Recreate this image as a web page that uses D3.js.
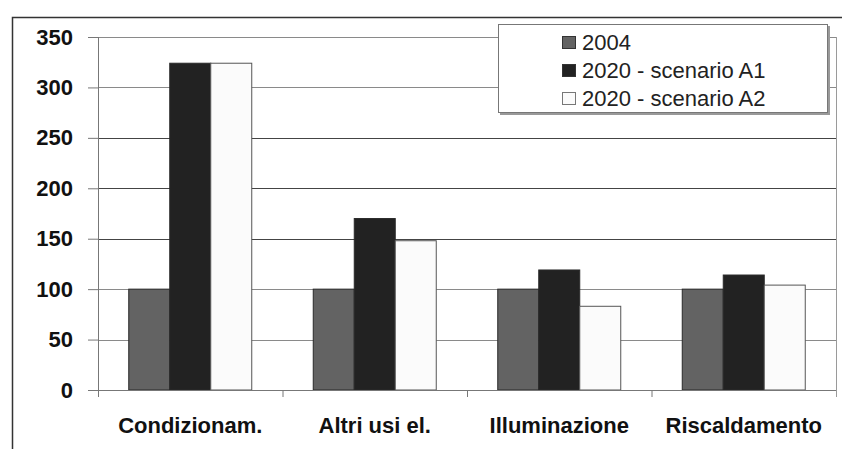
<!DOCTYPE html>
<html>
<head>
<meta charset="utf-8">
<script src="https://cdn.jsdelivr.net/npm/d3@7"></script>
<style>
  body { margin: 0; background: #fff; }
  text { font-family: "Liberation Sans", Arial, sans-serif; }
</style>
</head>
<body>
<div id="chart"></div>
<script>
// Categories and series
var categories = ["Condizionam.", "Altri usi el.", "Illuminazione", "Riscaldamento"];
var seriesNames = ["2004", "2020 - scenario A1", "2020 - scenario A2"];
var values2004 = [100, 100, 100, 100];
var valuesA1 = [324, 170, 119, 114];
var valuesA2 = [324, 148, 83, 104];
var yTicks = [0, 50, 100, 150, 200, 250, 300, 350];

var fills = ["#636363", "#222222", "#fbfbfb"];

var width = 842, height = 449;
var margin = { left: 98, right: 6, top: 37, bottom: 59 };

var svg = d3.select("#chart").append("svg")
  .attr("width", width)
  .attr("height", height);

// outer frame (top and left edges visible)
svg.append("path")
  .attr("d", "M12.5," + height + "V17.5H" + width)
  .attr("fill", "none")
  .attr("stroke", "#333")
  .attr("stroke-width", 1.5);

var x0 = d3.scaleBand()
  .domain(categories)
  .range([margin.left, width - margin.right])
  .paddingInner(0)
  .paddingOuter(0);

var x1 = d3.scaleBand()
  .domain(seriesNames)
  .range([0, x0.bandwidth()])
  .paddingOuter(0.75)
  .paddingInner(0);

var y = d3.scaleLinear()
  .domain([0, 350])
  .range([height - margin.bottom, margin.top]);

// gridlines
svg.append("g")
  .selectAll("line")
  .data(yTicks.filter(d => d > 0))
  .enter().append("line")
  .attr("x1", margin.left)
  .attr("x2", width - margin.right)
  .attr("y1", d => Math.round(y(d)) + 0.5)
  .attr("y2", d => Math.round(y(d)) + 0.5)
  .attr("stroke", d => (d >= 150 && d <= 250) ? "#444" : "#8a8a8a")
  .attr("stroke-width", 1.2);

// right edge of plot area
svg.append("line")
  .attr("x1", width - margin.right + 0.5)
  .attr("x2", width - margin.right + 0.5)
  .attr("y1", margin.top)
  .attr("y2", y(0) + 7)
  .attr("stroke", "#9a9a9a");

// bars
var table = categories.map((c, i) => ({
  cat: c,
  vals: [values2004[i], valuesA1[i], valuesA2[i]]
}));

var groups = svg.append("g")
  .selectAll("g")
  .data(table)
  .enter().append("g")
  .attr("transform", d => "translate(" + x0(d.cat) + ",0)");

groups.selectAll("rect")
  .data(d => d.vals.map((v, k) => ({ name: seriesNames[k], v: v, k: k })))
  .enter().append("rect")
  .attr("x", d => x1(d.name))
  .attr("width", x1.bandwidth())
  .attr("y", d => y(d.v))
  .attr("height", d => y(0) - y(d.v))
  .attr("fill", d => fills[d.k])
  .attr("stroke", d => d.k == 2 ? "#555" : "#2a2a2a")
  .attr("stroke-width", 1);

// y axis
var yAxis = svg.append("g")
  .attr("transform", "translate(" + margin.left + ",0)")
  .call(d3.axisLeft(y).tickValues(yTicks).tickSize(10).tickPadding(15));
yAxis.select(".domain").remove();
yAxis.selectAll(".tick line").attr("stroke", "#777");
yAxis.selectAll("text")
  .attr("font-size", 22)
  .attr("font-weight", "bold")
  .attr("fill", "#111");
yAxis.append("line")
  .attr("x1", 0.5).attr("x2", 0.5)
  .attr("y1", margin.top).attr("y2", y(0) + 7)
  .attr("stroke", "#777");

// x axis line and separators
var xAxis = svg.append("g");
xAxis.append("line")
  .attr("x1", margin.left)
  .attr("x2", width - margin.right)
  .attr("y1", Math.round(y(0)) + 0.5)
  .attr("y2", Math.round(y(0)) + 0.5)
  .attr("stroke", "#777")
  .attr("stroke-width", 1.2);
xAxis.selectAll(".sep")
  .data(categories.slice(1))
  .enter().append("line")
  .attr("x1", d => x0(d) + 0.5)
  .attr("x2", d => x0(d) + 0.5)
  .attr("y1", y(0))
  .attr("y2", y(0) + 7)
  .attr("stroke", "#777");
xAxis.selectAll("text")
  .data(categories)
  .enter().append("text")
  .attr("x", d => x0(d) + x0.bandwidth() / 2)
  .attr("y", 433)
  .attr("text-anchor", "middle")
  .attr("font-size", 22)
  .attr("font-weight", "bold")
  .attr("fill", "#111")
  .text(d => d);

// legend
var legend = svg.append("g").attr("transform", "translate(498,24)");
legend.append("rect")
  .attr("x", 2).attr("y", 2)
  .attr("width", 330).attr("height", 89)
  .attr("fill", "#999");
legend.append("rect")
  .attr("x", 0.5).attr("y", 0.5)
  .attr("width", 329).attr("height", 88)
  .attr("fill", "#fff")
  .attr("stroke", "#777");

var items = legend.selectAll(".item")
  .data(seriesNames)
  .enter().append("g")
  .attr("transform", (d, i) => "translate(64," + (18 + i * 28) + ")");
items.append("rect")
  .attr("x", 0.5).attr("y", -5.5)
  .attr("width", 13).attr("height", 12)
  .attr("fill", (d, i) => fills[i])
  .attr("stroke", (d, i) => i == 2 ? "#777" : "#333");
items.append("text")
  .attr("x", 20)
  .attr("y", 8)
  .attr("font-size", 22)
  .attr("fill", "#222")
  .text(d => d);
</script>
</body>
</html>
